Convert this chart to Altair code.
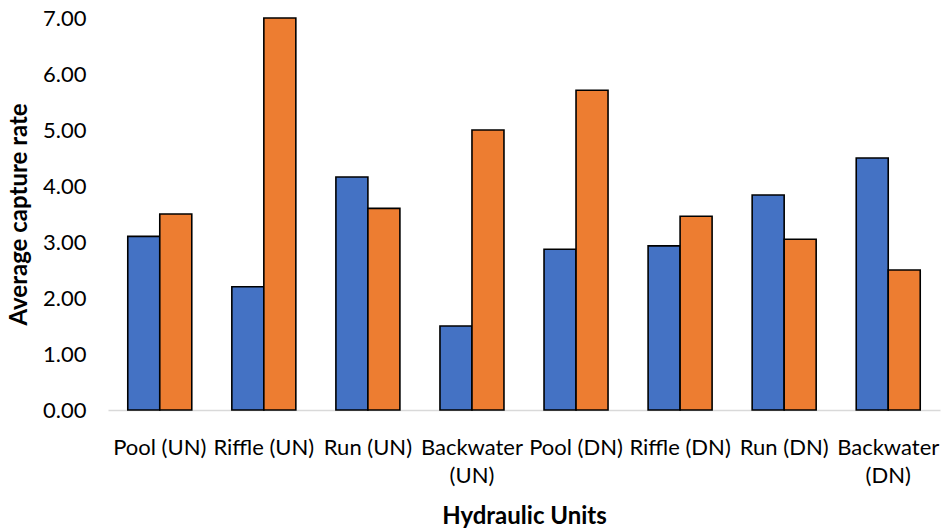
import altair as alt
import pandas as pd

# Hydraulic units and the average capture rate of each of the two series
units = ["Pool (UN)", "Riffle (UN)", "Run (UN)", "Backwater (UN)",
         "Pool (DN)", "Riffle (DN)", "Run (DN)", "Backwater (DN)"]
series_names = ["Series A", "Series B"]
series_a = [3.10, 2.20, 4.16, 1.50, 2.87, 2.93, 3.84, 4.50]
series_b = [3.50, 7.00, 3.60, 5.00, 5.71, 3.46, 3.05, 2.50]
y_ticks = [0, 1, 2, 3, 4, 5, 6, 7]

rows = []
for u, a, b in zip(units, series_a, series_b):
    rows.append({"unit": u, "series": series_names[0], "rate": a})
    rows.append({"unit": u, "series": series_names[1], "rate": b})
df = pd.DataFrame(rows)

FONT = "Lato"

chart = alt.Chart(df).mark_bar(stroke="black", strokeWidth=1.6).encode(
    x=alt.X("unit:N", sort=units,
            scale=alt.Scale(paddingInner=0.385, paddingOuter=0.19),
            axis=alt.Axis(title="Hydraulic Units", labelAngle=0,
                          labelExpr="length(datum.label) > 12 ? split(datum.label, ' ') : datum.label",
                          labelFont=FONT, labelFontSize=22, labelColor="#000000",
                          labelPadding=27, labelLineHeight=28,
                          ticks=False, domainColor="#d9d9d9", domainWidth=1.5,
                          titleFont=FONT, titleFontSize=24, titleFontWeight="bold",
                          titleColor="#000000", titlePadding=18)),
    xOffset=alt.XOffset("series:N", sort=series_names),
    y=alt.Y("rate:Q",
            scale=alt.Scale(domain=[0, 7], nice=False),
            axis=alt.Axis(title="Average capture rate", values=y_ticks, format=".2f",
                          labelFont=FONT, labelFontSize=22, labelColor="#000000",
                          labelPadding=22, grid=False, ticks=False, domain=False,
                          titleFont=FONT, titleFontSize=24, titleFontWeight="bold",
                          titleColor="#000000", titlePadding=11)),
    color=alt.Color("series:N", sort=series_names,
                    scale=alt.Scale(domain=series_names, range=["#4472C4", "#ED7D31"]),
                    legend=None),
).properties(
    width=832,
    height=392,
    autosize=alt.AutoSizeParams(type="none"),
    padding={"left": 108, "top": 18, "right": 2, "bottom": 121},
    background="white",
).configure_view(stroke=None)

chart.save("out.html", embed_options={"renderer": "svg", "actions": False})
